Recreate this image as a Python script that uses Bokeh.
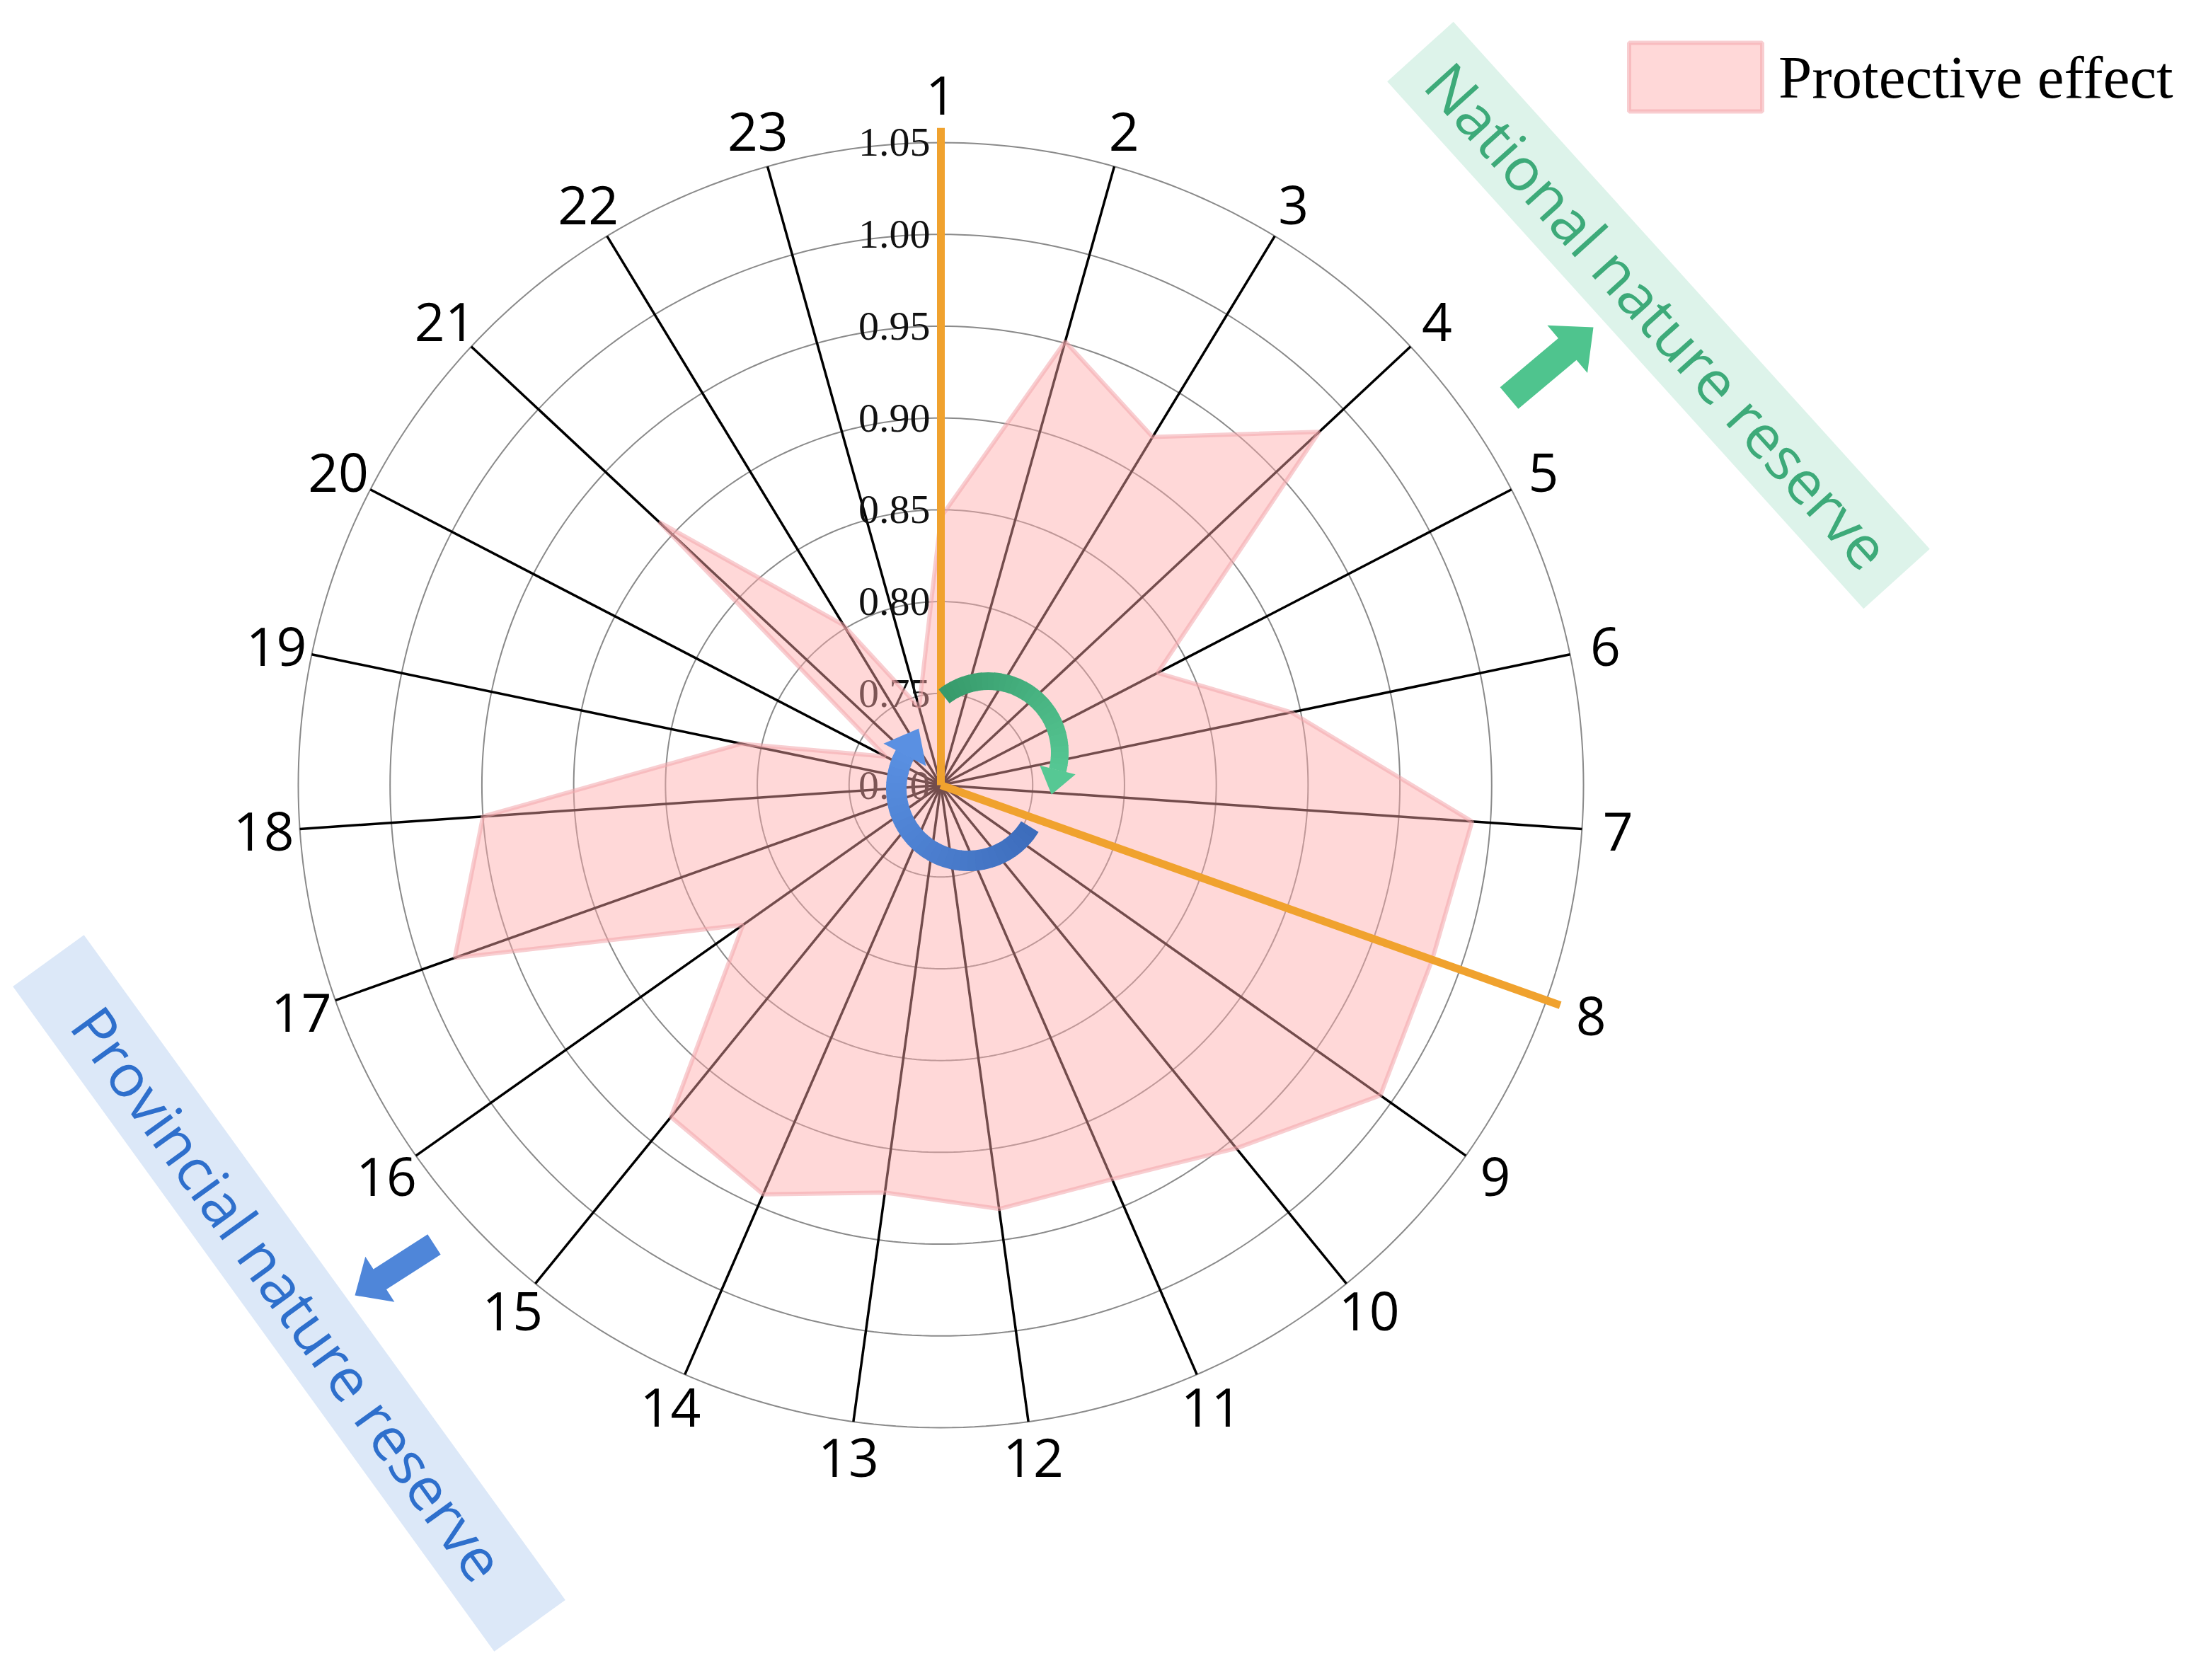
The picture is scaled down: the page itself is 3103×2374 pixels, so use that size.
import numpy as np
from bokeh.plotting import figure
from bokeh.models import Range1d, Legend, LegendItem
from bokeh.embed import file_html
from bokeh.resources import INLINE
from bokeh.core.properties import value

# ---------------- data ----------------
categories = [str(i) for i in range(1, 24)]
effect = [0.846, 0.951, 0.922, 0.982, 0.833, 0.895, 0.990, 0.984, 0.993, 0.955,
          0.934, 0.933, 0.924, 0.943, 0.933, 0.832, 0.981, 0.950, 0.811, 0.734,
          0.910, 0.802, 0.744]
tick_values = [0.70, 0.75, 0.80, 0.85, 0.90, 0.95, 1.00, 1.05]
tick_labels = ["0.70", "0.75", "0.80", "0.85", "0.90", "0.95", "1.00", "1.05"]
highlighted = ["1", "8"]
series_name = "Protective effect"
group_labels = ["National nature reserve", "Provincial nature reserve"]

R0, R1 = 0.70, 1.05

# ---------------- geometry ----------------
W, H = 3086, 2356
S = 2594.3            # pixels per unit of the radial scale
CX, CY = 1337.0, 1117.0   # centre of the radar in page pixels


def P(xr, yr):
    return ((xr - CX) / S, (CY - yr) / S)


x0, y0 = P(8, 8)
x1, y1 = P(8 + W, 8 + H)

p = figure(width=W, height=H, x_range=Range1d(x0, x1), y_range=Range1d(y1, y0),
           output_backend="svg", toolbar_location=None,
           x_axis_type=None, y_axis_type=None, min_border=0,
           outline_line_color=None, background_fill_color="white")
p.xgrid.visible = False
p.ygrid.visible = False

n = len(categories)
theta = np.pi / 2 - np.arange(n) * 2 * np.pi / n
cos_t, sin_t = np.cos(theta), np.sin(theta)

# grid rings
for v in tick_values[1:]:
    r = v - R0
    a = np.linspace(0, 2 * np.pi, 361)
    p.line(r * np.cos(a), r * np.sin(a), line_color="#8a8a8a", line_width=2)

# spokes
rs = R1 - R0
p.segment(x0=[0] * n, y0=[0] * n, x1=list(rs * cos_t), y1=list(rs * sin_t),
          line_color="black", line_width=3.5)

# radial tick labels
p.text(x=[-15 / S] * len(tick_values), y=[v - R0 for v in tick_values], text=tick_labels,
       text_align="right", text_baseline="middle", text_font_size="58px",
       text_font=value("Liberation Serif"), text_color="#111111")

# protective effect polygon
rv = np.array(effect) - R0
poly = p.patch(list(rv * cos_t), list(rv * sin_t), fill_color="#FFA8A8", fill_alpha=0.45,
               line_color="#F2A6AC", line_alpha=0.55, line_width=6)

# highlighted spokes
for c in highlighted:
    i = categories.index(c)
    rr = 1.058 - R0
    p.line([0, rr * cos_t[i]], [0, rr * sin_t[i]], line_color="#F0A22E", line_width=11)

# category labels
rl = np.array([(975 if c in highlighted else 959) / S for c in categories])
p.text(x=list(rl * cos_t), y=list(rl * sin_t), text=categories, text_align="center",
       text_baseline="middle", text_font_size="75px", text_font=value("Open Sans"),
       text_color="black")


# ---------------- circular arrows ----------------
def mix(c1, c2, t):
    a = np.array([int(c1[k:k + 2], 16) for k in (1, 3, 5)])
    b = np.array([int(c2[k:k + 2], 16) for k in (1, 3, 5)])
    m = (a + (b - a) * t).round().astype(int)
    return "#%02x%02x%02x" % tuple(m)


def curved_arrow(cxr, cyr, rad, thick, a_start, a_end, c1, c2, hw, hl):
    cx, cy = P(cxr, cyr)
    r = rad / S
    th = thick / S
    nseg = 30
    angs = np.linspace(a_start, a_end, nseg + 1)
    for k in range(nseg):
        lo, hi = sorted([angs[k], angs[k + 1]])
        p.annular_wedge(x=cx, y=cy, inner_radius=r - th / 2, outer_radius=r + th / 2,
                        start_angle=np.radians(lo) - 0.004, end_angle=np.radians(hi) + 0.004,
                        fill_color=mix(c1, c2, k / nseg), line_color=None)
    te = np.radians(a_end)
    bx, by = cx + r * np.cos(te), cy + r * np.sin(te)
    ux, uy = np.cos(te), np.sin(te)
    sgn = -1 if a_end < a_start else 1
    tx, ty = -sgn * np.sin(te), sgn * np.cos(te)
    hwd, hld = hw / S, hl / S
    p.patch([bx + hwd * ux, bx - hwd * ux, bx + hld * tx],
            [by + hwd * uy, by - hwd * uy, by + hld * ty],
            fill_color=c2, line_color=None)


curved_arrow(1404, 1071, 101, 25, 128, -14, "#379A6B", "#56C894", 26, 36)
curved_arrow(1376, 1122, 102, 29, -32, -208, "#3D6DBC", "#5A90E2", 34, 42)


# ---------------- straight arrows ----------------
def straight_arrow(t, e, sw, hw, hl, color):
    tx, ty = P(*t)
    ex, ey = P(*e)
    d = np.array([ex - tx, ey - ty])
    L = np.hypot(*d)
    d = d / L
    nrm = np.array([-d[1], d[0]])
    sw, hw, hl = sw / S, hw / S, hl / S
    T = np.array([tx, ty])
    E = np.array([ex, ey])
    Hb = E - hl * d
    pts = [T + sw * nrm, Hb + sw * nrm, Hb + hw * nrm, E, Hb - hw * nrm, Hb - sw * nrm, T - sw * nrm]
    p.patch([q[0] for q in pts], [q[1] for q in pts], fill_color=color, line_color=None)


straight_arrow((2140, 570), (2259, 470), 20, 44, 48, "#4FC48E")
straight_arrow((621, 1766), (509, 1838), 17, 38, 42, "#4F86D9")


# ---------------- side bands ----------------
def band(cxr, cyr, length, width, ang, fill, label, tcolor, size):
    cx, cy = P(cxr, cyr)
    p.rect(x=[cx], y=[cy], width=length / S, height=width / S, angle=ang, angle_units="deg",
           fill_color=fill, line_color=None)
    p.text(x=[cx], y=[cy], text=[label], angle=ang, angle_units="deg", text_align="center",
           text_baseline="middle", text_font_size=size, text_font=value("Open Sans"),
           text_color=tcolor)


band(2351, 453, 1004, 126, -47.9, "#DDF3EA", group_labels[0], "#3DAA79", "84px")
band(416, 1835, 1160, 124, -54.1, "#DCE8F8", group_labels[1], "#2E6FCC", "84px")

# ---------------- legend ----------------
gw, gh = 235, 121
legend = Legend(items=[LegendItem(label=series_name, renderers=[poly])],
                location=(2278, H - 48 - gh), glyph_width=gw, glyph_height=gh,
                label_text_font="Liberation Serif", label_text_font_size="85px",
                label_text_color="black",
                label_standoff=0, padding=0, margin=0, spacing=0,
                border_line_alpha=0, background_fill_alpha=0, label_height=gh)
p.add_layout(legend)

open("out.html", "w").write(file_html(p, INLINE))
